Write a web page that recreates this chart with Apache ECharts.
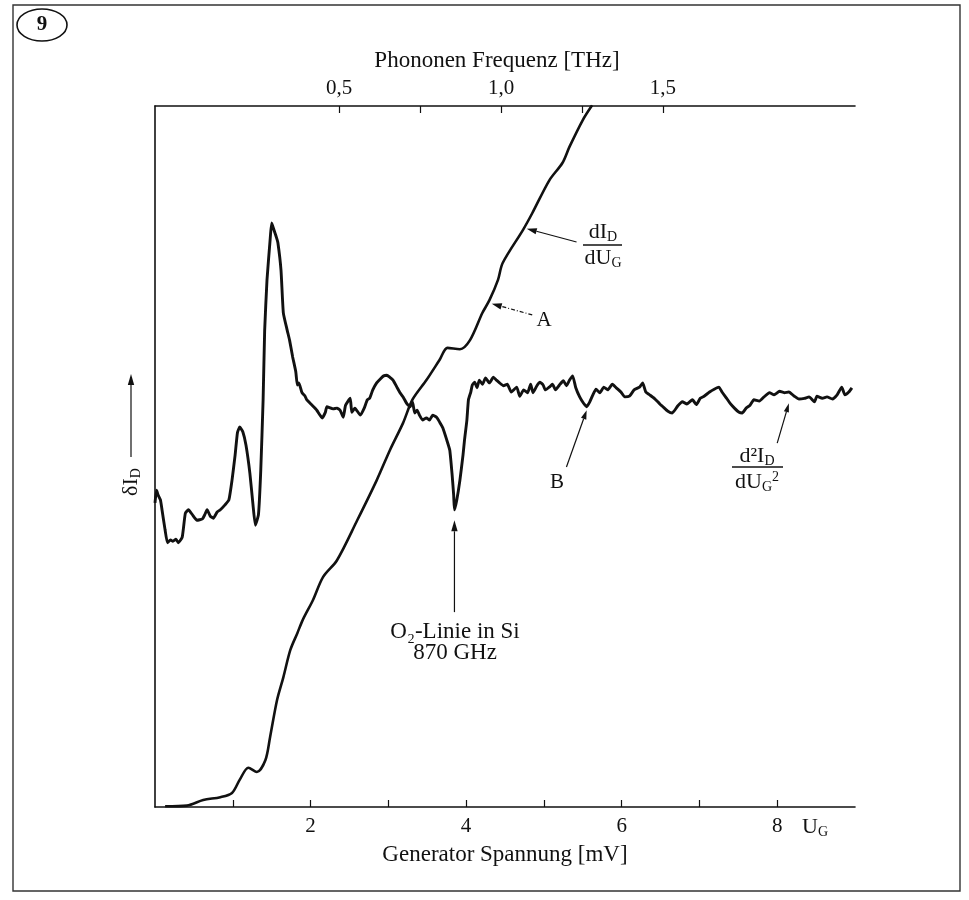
<!DOCTYPE html>
<html><head><meta charset="utf-8">
<script src="https://cdn.jsdelivr.net/npm/echarts@6/dist/echarts.min.js"></script>
<style>html,body{margin:0;padding:0;background:#fff}#c{width:969px;height:900px}</style>
</head><body><div id="c"></div>
<script>
const FONT = '"Liberation Serif","DejaVu Serif",serif';

// Generator voltage ticks (mV) and phonon-frequency ticks (THz)
const mvTicks = [1, 2, 3, 4, 5, 6, 7, 8];
const mvLabels = [2, 4, 6, 8];
const thzTicks = [0.5, 0.75, 1.0, 1.25, 1.5];
const thzLabels = [0.5, 1.0, 1.5];

// dI_D/dU_G  [U_G in mV, relative signal]
const dIdU = [[0.13,0.1],[0.41,0.2],[0.62,1.0],[0.84,1.4],[0.99,2.0],[1.09,3.9],[1.20,5.6],[1.31,5.0],[1.42,6.7],[1.48,10.0],[1.57,15.3],[1.65,18.5],[1.74,22.4],[1.83,24.8],[1.90,26.7],[2.03,29.5],[2.16,32.8],[2.34,35.2],[2.60,40.9],[2.85,46.6],[3.02,50.9],[3.19,54.8],[3.31,58.1],[3.49,60.9],[3.66,63.8],[3.76,65.5],[3.92,65.3],[4.05,66.6],[4.21,70.5],[4.30,72.3],[4.41,75.2],[4.47,77.6],[4.73,82.3],[4.85,84.7],[5.07,89.4],[5.24,91.9],[5.33,94.2],[5.50,98.0],[5.62,100.1]];

// d2I_D/dU_G^2  [U_G in mV, relative signal]
const d2IdU2 = [[0.00,43.4],[0.02,45.2],[0.04,44.5],[0.07,43.8],[0.09,42.4],[0.13,39.5],[0.16,37.7],[0.20,38.1],[0.23,37.9],[0.27,38.2],[0.30,37.7],[0.35,38.5],[0.39,41.9],[0.43,42.4],[0.48,41.7],[0.54,40.9],[0.61,41.1],[0.64,41.7],[0.67,42.4],[0.71,41.5],[0.75,41.2],[0.80,42.1],[0.84,42.4],[0.90,43.1],[0.95,43.8],[0.99,46.6],[1.03,50.2],[1.06,53.4],[1.09,54.2],[1.13,53.5],[1.17,51.6],[1.22,47.6],[1.26,43.1],[1.29,40.2],[1.33,41.7],[1.36,48.1],[1.39,58.1],[1.41,68.0],[1.44,75.2],[1.48,80.9],[1.50,83.3],[1.53,82.3],[1.56,81.3],[1.58,80.5],[1.62,76.6],[1.65,70.5],[1.70,68.0],[1.73,66.6],[1.77,64.2],[1.81,62.1],[1.83,60.2],[1.85,60.5],[1.89,59.1],[1.93,58.6],[1.95,58.1],[2.02,57.3],[2.08,56.6],[2.15,55.5],[2.19,56.3],[2.21,57.1],[2.29,56.8],[2.34,56.9],[2.38,56.6],[2.42,55.6],[2.45,57.3],[2.51,58.3],[2.53,56.3],[2.57,56.9],[2.64,55.9],[2.69,56.9],[2.73,58.1],[2.76,58.3],[2.80,59.5],[2.85,60.5],[2.90,61.1],[2.94,61.5],[2.98,61.6],[3.02,61.3],[3.06,60.9],[3.11,59.9],[3.15,59.1],[3.19,58.5],[3.24,57.5],[3.28,57.1],[3.31,57.8],[3.34,56.2],[3.37,56.6],[3.40,55.9],[3.44,55.2],[3.49,55.5],[3.53,55.2],[3.57,55.9],[3.62,55.6],[3.66,54.9],[3.70,54.1],[3.75,52.4],[3.79,50.9],[3.82,47.4],[3.84,44.5],[3.85,42.4],[3.88,43.8],[3.92,46.6],[3.96,50.2],[3.98,52.4],[4.01,55.2],[4.03,58.1],[4.06,59.2],[4.08,60.2],[4.11,60.6],[4.14,59.8],[4.17,60.9],[4.21,60.3],[4.25,61.2],[4.30,60.5],[4.35,61.3],[4.39,60.9],[4.43,60.5],[4.48,60.1],[4.53,60.3],[4.58,59.2],[4.65,59.9],[4.69,58.6],[4.74,59.5],[4.79,59.1],[4.83,60.3],[4.86,59.1],[4.91,60.1],[4.95,60.6],[4.99,60.2],[5.02,59.5],[5.07,59.9],[5.11,60.3],[5.15,59.5],[5.20,60.2],[5.25,60.8],[5.29,60.1],[5.33,60.9],[5.37,61.5],[5.41,59.8],[5.46,58.5],[5.51,57.6],[5.55,57.1],[5.59,57.8],[5.63,58.8],[5.67,59.6],[5.72,59.1],[5.77,59.9],[5.82,59.5],[5.88,60.3],[5.93,59.8],[5.99,59.2],[6.04,58.5],[6.10,58.6],[6.16,59.5],[6.23,59.9],[6.27,60.5],[6.31,59.2],[6.36,58.8],[6.42,58.3],[6.49,57.5],[6.53,57.1],[6.59,56.5],[6.65,56.2],[6.72,57.2],[6.78,57.8],[6.84,57.5],[6.91,58.1],[6.96,57.4],[7.01,58.3],[7.06,58.6],[7.13,59.2],[7.19,59.6],[7.25,59.9],[7.29,59.2],[7.35,58.3],[7.40,57.5],[7.45,56.9],[7.51,56.3],[7.55,56.2],[7.60,56.9],[7.65,57.3],[7.70,58.1],[7.77,57.9],[7.83,58.5],[7.90,59.1],[7.96,58.8],[8.03,59.3],[8.09,59.1],[8.15,59.2],[8.22,58.6],[8.28,58.2],[8.35,58.3],[8.41,58.5],[8.48,57.8],[8.51,58.6],[8.58,58.3],[8.64,58.5],[8.71,58.2],[8.77,58.8],[8.83,59.9],[8.87,58.8],[8.92,59.2],[8.96,59.8]];

const chart = echarts.init(document.getElementById('c'), null, {renderer: 'canvas', width: 969, height: 900});
const INK = '#111';

const option = {
  backgroundColor: '#fff',
  animation: false,
  grid: {left: 155, right: 114, top: 106, bottom: 93},
  xAxis: [
    {
      type: 'value', position: 'bottom', min: 0, max: 9, interval: 1,
      axisLine: {show: true, lineStyle: {color: INK, width: 1.6}},
      axisTick: {show: true, inside: true, length: 7, customValues: mvTicks, lineStyle: {color: INK, width: 1.2}},
      axisLabel: {customValues: mvLabels, color: INK, fontFamily: FONT, fontSize: 21, margin: 9},
      splitLine: {show: false},
      name: 'Generator Spannung [mV]', nameLocation: 'middle', nameGap: 36,
      nameTextStyle: {color: INK, fontFamily: FONT, fontSize: 23}
    },
    {
      type: 'value', position: 'top', min: -0.0685, max: 2.093,
      axisLine: {show: true, lineStyle: {color: INK, width: 1.6}},
      axisTick: {show: true, inside: true, length: 7, customValues: thzTicks, lineStyle: {color: INK, width: 1.2}},
      axisLabel: {customValues: thzLabels, color: INK, fontFamily: FONT, fontSize: 21, margin: 7,
        formatter: v => v.toFixed(1).replace('.', ',')},
      splitLine: {show: false},
      name: 'Phononen Frequenz [THz]', nameLocation: 'middle', nameGap: 34,
      nameTextStyle: {color: INK, fontFamily: FONT, fontSize: 23, padding: [0, 16, 0, 0]}
    }
  ],
  yAxis: {
    type: 'value', min: 0, max: 100,
    axisLine: {show: true, lineStyle: {color: INK, width: 1.6}},
    axisTick: {show: false}, axisLabel: {show: false}, splitLine: {show: false}
  },
  series: [
    {type: 'line', name: 'dI/dU', xAxisIndex: 0, data: dIdU, showSymbol: false, smooth: 0.3,
      lineStyle: {color: INK, width: 2.6}, clip: true},
    {type: 'line', name: 'd2I/dU2', xAxisIndex: 0, data: d2IdU2, showSymbol: false, smooth: 0.15,
      lineStyle: {color: INK, width: 2.9}, clip: true}
  ]
};
chart.setOption(option);

// ---- annotations ----
const P = (x, y) => chart.convertToPixel({xAxisIndex: 0, yAxisIndex: 0}, [x, y]);
const g = [];
function txtBase(extra) {
  return Object.assign({fill: INK, fontFamily: FONT, fontSize: 21, align: 'center', verticalAlign: 'middle',
    textAlign: 'center', textVerticalAlign: 'middle'}, extra || {});
}
function text(x, y, str, size, extra) {
  g.push({type: 'text', x, y, silent: true, style: txtBase(Object.assign({text: str, fontSize: size}, extra || {}))});
}
const R = {
  m: {fontSize: 22, fontFamily: FONT, fill: INK, color: INK, lineHeight: 24, verticalAlign: 'middle'},
  s: {fontSize: 14, fontFamily: FONT, fill: INK, color: INK, lineHeight: 9, verticalAlign: 'bottom'},
  p: {fontSize: 14, fontFamily: FONT, fill: INK, color: INK, lineHeight: 9, verticalAlign: 'top'}
};
function rich(x, y, str, rot) {
  g.push({type: 'text', x, y, rotation: rot || 0, silent: true, style: txtBase({text: str, rich: R})});
}
function arrowPx(p, q, dash, hl, hw) {
  hl = hl || 10; hw = hw || 3.2;
  const dx = q[0] - p[0], dy = q[1] - p[1], L = Math.hypot(dx, dy), ux = dx / L, uy = dy / L;
  const bx = q[0] - ux * hl, by = q[1] - uy * hl;
  g.push({type: 'line', silent: true, shape: {x1: p[0], y1: p[1], x2: bx, y2: by},
    style: {stroke: INK, lineWidth: 1.2, lineDash: dash || null}});
  g.push({type: 'polygon', silent: true, shape: {points: [[q[0], q[1]], [bx - uy * hw, by + ux * hw], [bx + uy * hw, by - ux * hw]]},
    style: {fill: INK}});
}
function arrowData(a, b, dash, hl, hw) { arrowPx(P(a[0], a[1]), P(b[0], b[1]), dash, hl, hw); }
function hbar(x1, x2, y) {
  g.push({type: 'line', silent: true, shape: {x1, y1: y, x2, y2: y}, style: {stroke: INK, lineWidth: 1.3}});
}

// frame and figure number
g.push({type: 'rect', silent: true, shape: {x: 13, y: 5, width: 947, height: 886}, style: {fill: null, stroke: '#333', lineWidth: 1.4}});
g.push({type: 'ellipse', silent: true, shape: {cx: 42, cy: 25, rx: 25, ry: 16}, style: {fill: null, stroke: INK, lineWidth: 1.6}});
text(42, 25, '9', 21, {fontWeight: 'bold'});

// U_G next to "8"
rich(815, 827, '{m|U}{s|G}');

// y label with arrow
arrowPx([131, 457], [131, 374], null, 11, 3.2);
rich(131, 482, '{m|δI}{s|D}', Math.PI / 2);

// dI_D/dU_G
rich(603, 232, '{m|dI}{s|D}');
hbar(583, 622, 245);
rich(603, 258, '{m|dU}{s|G}');
arrowData([5.42, 80.6], [4.78, 82.5]);

// A
text(544, 320, 'A', 21);
arrowData([4.85, 70.2], [4.33, 71.8], [4, 2, 1, 2]);

// B
text(557, 482, 'B', 21);
arrowData([5.29, 48.5], [5.55, 56.6], null, 9, 2.8);

// d2I_D/dU_G^2
rich(757, 456, '{m|d²I}{s|D}');
hbar(732, 783, 467);
rich(757, 482, '{m|dU}{s|G}{p|2}');
arrowData([8.00, 51.9], [8.15, 57.6], null, 9, 2.6);

// O2 line
arrowData([3.85, 27.8], [3.85, 40.9], null, 11, 3.2);
text(455, 632, 'O₂-Linie in Si', 23);
text(455, 653, '870 GHz', 23);

chart.setOption({graphic: {elements: g}});
</script>
</body></html>
